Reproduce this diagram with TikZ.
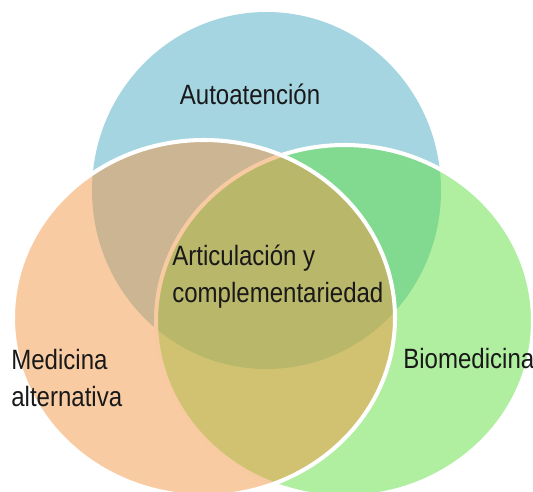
\documentclass[tikz,border=0pt]{standalone}
\usepackage{fontspec}
\newfontfamily\vennfont[FakeStretch=0.86]{Liberation Sans}
\definecolor{autoBlue}{RGB}{165,213,225}
\definecolor{bioGreen}{RGB}{97,221,65}
\definecolor{altOrange}{RGB}{241,151,69}

\begin{document}
\begin{tikzpicture}[
  vset/.style={draw=white, line width=2.3pt, fill opacity=0.5, draw opacity=1},
  vtext/.style={font=\vennfont\fontsize{15.9}{20.5}\selectfont, inner sep=0pt, text=black!90, align=left},
]
  \useasboundingbox (0,0) rectangle (10.66,-9.82);
  \fill[autoBlue] (5.33,-3.81) ellipse [x radius=3.49, y radius=3.57];
  \filldraw[vset, fill=bioGreen] (6.89,-6.42) ellipse [x radius=3.77, y radius=3.52];
  \filldraw[vset, fill=altOrange] (4.08,-6.36) ellipse [x radius=3.82, y radius=3.56];
  \node[vtext, anchor=base] (auto) at (5.0,-2.1) {Autoatención};
  \node[vtext, anchor=base west] (artic) at (3.44,-6.04) {Articulación y\\complementariedad};
  \node[vtext, anchor=base west] (alter) at (0.22,-8.12) {Medicina\\alternativa};
  \node[vtext, anchor=base west] (biomed) at (8.06,-7.36) {Biomedicina};
\end{tikzpicture}
\end{document}
